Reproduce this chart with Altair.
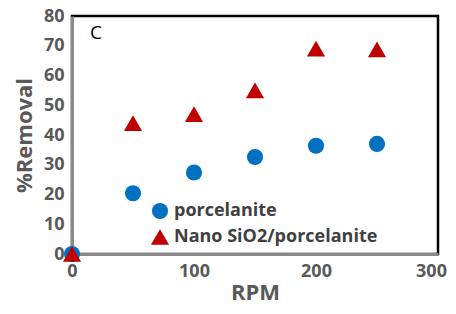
import altair as alt
import pandas as pd

rpm = [0, 50, 100, 150, 200, 250]
porcelanite = [0, 20.4, 27.4, 32.6, 36.4, 37.0]
nano = [0, 44.0, 47.0, 55.0, 69.0, 68.8]
series_names = ["porcelanite", "Nano SiO2/porcelanite"]

df = pd.DataFrame({
    "RPM": rpm + rpm,
    "Removal": porcelanite + nano,
    "Series": [series_names[0]] * len(rpm) + [series_names[1]] * len(rpm),
})

gray = "#595959"

points = alt.Chart(df).mark_point(filled=True, opacity=1).encode(
    x=alt.X("RPM:Q", scale=alt.Scale(domain=[0, 300], nice=False),
            axis=alt.Axis(values=[0, 100, 200, 300], title="RPM",
                          labelOffset=alt.expr("datum.value == 300 ? -7 : 0"))),
    y=alt.Y("Removal:Q", scale=alt.Scale(domain=[0, 80], nice=False),
            axis=alt.Axis(values=[0, 10, 20, 30, 40, 50, 60, 70, 80], title="%Removal")),
    color=alt.Color("Series:N", scale=alt.Scale(domain=series_names, range=["#0070C0", "#C00000"]),
                    legend=alt.Legend(title=None, orient="none", legendX=78, legendY=186,
                                      labelFont="Open Sans", labelFontSize=18, labelFontWeight="bold",
                                      labelColor="#404040", symbolSize=160, rowPadding=7,
                                      labelOffset=4, labelLimit=400)),
    shape=alt.Shape("Series:N", scale=alt.Scale(domain=series_names, range=["circle", "triangle-up"])),
    size=alt.Size("Series:N", scale=alt.Scale(domain=series_names, range=[260, 330]), legend=None),
    order=alt.Order("Series:N", sort="descending"),
)

label = alt.Chart(pd.DataFrame({"t": ["C"]})).mark_text(
    font="Open Sans", fontSize=19, color="black", align="left", baseline="middle"
).encode(x=alt.value(18), y=alt.value(17), text="t:N")

chart = alt.layer(points, label).properties(
    width=366, height=238,
    autosize=alt.AutoSizeParams(type="none"),
    padding={"left": 64, "top": 8, "right": 10, "bottom": 50},
).configure_view(
    stroke="black", strokeWidth=2.5
).configure_axis(
    grid=False, ticks=False, domainColor="#8a8a8a", domainWidth=3, labelFlush=False,
    labelFont="Open Sans", labelFontSize=18, labelFontWeight="bold", labelColor=gray,
    titleFont="Open Sans", titleFontSize=22, titleFontWeight="bold", titleColor=gray,
    labelPadding=8,
).configure_axisY(titlePadding=7).configure_axisX(titlePadding=2)

chart.save("out.html", embed_options={"renderer": "svg", "actions": False})
